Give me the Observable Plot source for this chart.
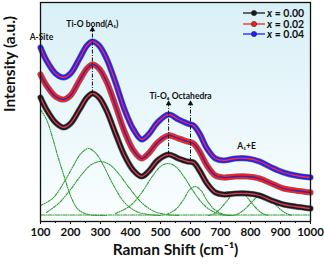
<!DOCTYPE html>
<html>
<head>
<meta charset="utf-8">
<script src="https://cdn.jsdelivr.net/npm/d3@7"></script>
<script src="https://cdn.jsdelivr.net/npm/@observablehq/plot@0.6"></script>
<style>
  body { margin: 0; background: #fff; }
  #wrap { position: relative; width: 324px; height: 268px; font-family: Lato, "Open Sans", sans-serif; }
  #legend { position: absolute; left: 243px; top: 8px; font-weight: bold; font-size: 10.5px; line-height: 10.5px; color: #111; }
  #legend .row { display: flex; align-items: center; height: 10.5px; }
  #legend svg { margin-right: 2px; }
</style>
</head>
<body>
<div id="wrap"><div id="legend"></div></div>
<script>
// ---- data ----
const raman = [100,120,150,177,200,230,255,273,295,320,350,380,410,437,460,490,527,560,590,610,630,655,683,710,750,790,830,870,910,950,1000];
const int000 = [118,106,93,88,92,106,118,122,118,105,82,60,45,39,44,55,61,57,54,53,45,32,23,21,22,22,20,15,11,9,7];
const int002 = [141,130,119,116,120,135,147,151,147,134,110,84,65,57,62,73,80,77,74,72,64,50,40,38,39,39,37,32,27,25,23];
const int004 = [168,155,142,138,142,157,170,174,170,157,133,106,86,76,81,93,101,96,92,90,82,67,57,55,57,57,54,48,43,40,38];

const seriesNames = ["x = 0.00", "x = 0.02", "x = 0.04"];
const seriesColors = ["#1a1a1a", "#ff1c1c", "#2020ff"];
const innerColors = ["#e23a5a", "#2a2ab8", "#ff2a2a"];

// fitted components (green dash-dot-dot), read as sample points
const comp1X = [100,120,140,160,180,200,220,240,270,320];
const comp1Y = [106,96,78,57,38,20,8,3,0.5,0];
const comp2X = [100,140,180,210,235,260,285,310,340,380,420,460,500];
const comp2Y = [10,17,34,50,62,67,62,50,32,13,4,1,0];
const comp3X = [120,160,200,240,270,300,330,360,400,440,480,520,560];
const comp3Y = [3,12,26,42,51,54,51,42,26,12,4,1,0];
const comp4X = [350,400,440,470,500,523,550,580,610,650,690,730];
const comp4Y = [2,10,24,38,49,52,49,38,24,9,2,0];
const comp5X = [520,550,575,595,615,635,655,680,710,740];
const comp5Y = [1,6,15,25,29,25,15,6,1,0];
const comp6X = [660,680,700,720,740,760,780,800,820,840,860];
const comp6Y = [0,2,7,14,21,23,21,14,7,2,0];
const comp7X = [740,760,780,800,820,840,860,880,900,920,940];
const comp7Y = [0,2,6,12,18,20,18,12,6,2,0];
const baseX = [100,1000];
const baseY = [0.5,0.5];

// annotations
const annoText = ["A-Site", "Ti-O bond(A\u2081)", "Ti-O\u2086 Octahedra", "A\u2081+E"];
const annoX = [103, 273, 567, 787];
const annoY = [178, 191, 119, 69];
const annoAnchor = ["start", "middle", "middle", "middle"];
const arrowX = [273, 527, 600];
const arrowFrom = [122, 61, 54];
const arrowTo = [186, 112, 112];

const xTicks = [100,200,300,400,500,600,700,800,900,1000];
const xMinor = [150,250,350,450,550,650,750,850,950];

// ---- build tables ----
const seriesData = [int000, int002, int004].map((arr, i) =>
  raman.map((r, j) => ({x: r, y: arr[j], s: i})));
const comps = [[comp1X,comp1Y],[comp2X,comp2Y],[comp3X,comp3Y],[comp4X,comp4Y],[comp5X,comp5Y],[comp6X,comp6Y],[comp7X,comp7Y]]
  .map(([xs, ys], k) => xs.map((v, j) => ({x: v, y: ys[j], k})));
const baseData = baseX.map((v, j) => ({x: v, y: baseY[j]}));
const annos = annoText.map((t, i) => ({t, x: annoX[i], y: annoY[i], a: annoAnchor[i]}));
const arrows = arrowX.map((v, i) => ({x: v, y1: arrowFrom[i], y2: arrowTo[i]}));

const green = "#2f9a30";
const dash = "3,1.3,0.9,1.3,0.9,1.3";

const marks = [
  Plot.frame({fill: "url(#bgGrad)"}),
  ...comps.map(c => Plot.line(c, {x: "x", y: "y", stroke: green, strokeWidth: 1.1, strokeDasharray: dash, curve: "catmull-rom"})),
  Plot.line(baseData, {x: "x", y: "y", stroke: green, strokeWidth: 1.1, strokeDasharray: "4,1.3,0.9,1.3"}),
];
seriesData.forEach((d, i) => {
  marks.push(Plot.line(d, {x: "x", y: "y", stroke: "#111", strokeWidth: 6.2, curve: "catmull-rom", strokeOpacity: 0.55}));
  marks.push(Plot.line(d, {x: "x", y: "y", stroke: seriesColors[i], strokeWidth: 5, curve: "catmull-rom"}));
  marks.push(Plot.line(d, {x: "x", y: "y", stroke: innerColors[i], strokeWidth: 1.3, curve: "catmull-rom"}));
});
marks.push(
  Plot.link(arrows, {x1: "x", x2: "x", y1: "y1", y2: "y2", stroke: "#111", strokeWidth: 1, strokeDasharray: "4,1.5,1,1.5"}),
  Plot.dot(arrows, {x: "x", y: "y2", symbol: "triangle", r: 2.1, fill: "#111", stroke: "none"}),
  Plot.text(annos, {x: "x", y: "y", text: "t", textAnchor: "a", fontSize: 8.5, fontWeight: "bold", fill: "#111"}),
  Plot.frame({stroke: "#111", strokeWidth: 1.3}),
  Plot.axisX({ticks: xTicks, tickSize: 3, fontSize: 11.5, fontWeight: "bold", label: null, tickPadding: 3, tickFormat: d => String(d)}),
  Plot.axisX({ticks: xMinor, tickSize: 2, tickFormat: () => "", label: null}),
  Plot.text(["Raman Shift (cm\u207B\u00B9)"], {frameAnchor: "bottom", dy: 33, fontSize: 15.5, fontWeight: "bold", fill: "#111"}),
  Plot.text(["Intensity (a.u.)"], {frameAnchor: "left", dx: -30, rotate: -90, fontSize: 15.5, fontWeight: "bold", fill: "#111"})
);

const chart = Plot.plot({
  width: 324,
  height: 268,
  marginLeft: 40,
  marginRight: 14,
  marginTop: 2,
  marginBottom: 47,
  style: {fontFamily: "Lato, 'Open Sans', sans-serif", color: "#111", background: "transparent"},
  x: {domain: [100, 1000]},
  y: {domain: [-6, 213], axis: null},
  marks
});

// gradient for plot background
const svg = d3.select(chart);
const defs = svg.insert("defs", ":first-child");
const grad = defs.append("linearGradient").attr("id", "bgGrad").attr("x1", 0).attr("y1", 0).attr("x2", 0).attr("y2", 1);
grad.append("stop").attr("offset", "0%").attr("stop-color", "#d9f0f7");
grad.append("stop").attr("offset", "100%").attr("stop-color", "#fbfeff");

document.getElementById("wrap").prepend(chart);

// legend
const leg = d3.select("#legend");
seriesNames.forEach((name, i) => {
  const row = leg.append("div").attr("class", "row");
  const s = row.append("svg").attr("width", 22).attr("height", 10);
  s.append("line").attr("x1", 0).attr("x2", 22).attr("y1", 5).attr("y2", 5).attr("stroke", seriesColors[i]).attr("stroke-width", 1.3);
  s.append("circle").attr("cx", 11).attr("cy", 5).attr("r", 2.6).attr("fill", seriesColors[i]).attr("stroke", "#222").attr("stroke-width", 0.6);
  const parts = name.split(" ");
  row.append("span").html(`<i>${parts[0]}</i> ${parts.slice(1).join(" ")}`);
});
</script>
</body>
</html>
